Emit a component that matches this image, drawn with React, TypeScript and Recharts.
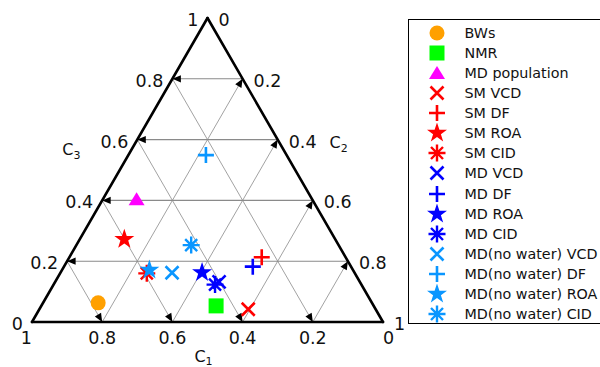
import { ScatterChart, Scatter, XAxis, YAxis, ReferenceLine } from 'recharts'

const H = Math.sqrt(3) / 2

// ternary composition of every series (C1, C2, C3)
const SERIES_NAMES = [
  'BWs',
  'NMR',
  'MD population',
  'SM VCD',
  'SM DF',
  'SM ROA',
  'SM CID',
  'MD VCD',
  'MD DF',
  'MD ROA',
  'MD CID',
  'MD(no water) VCD',
  'MD(no water) DF',
  'MD(no water) ROA',
  'MD(no water) CID',
]
const C1_VALUES = [0.78, 0.449, 0.5, 0.363, 0.239, 0.601, 0.593, 0.401, 0.28, 0.434, 0.417, 0.52, 0.23, 0.58, 0.42]
const C2_VALUES = [0.157, 0.498, 0.096, 0.595, 0.548, 0.127, 0.247, 0.467, 0.538, 0.403, 0.46, 0.318, 0.221, 0.249, 0.327]
const C3_VALUES = [0.063, 0.053, 0.404, 0.042, 0.213, 0.272, 0.16, 0.132, 0.182, 0.163, 0.123, 0.162, 0.549, 0.171, 0.253]

const SERIES_COLORS = [
  '#ffa000', '#00ff00', '#ff00ff',
  '#ff0000', '#ff0000', '#ff0000', '#ff0000',
  '#0000ff', '#0000ff', '#0000ff', '#0000ff',
  '#0a96ff', '#0a96ff', '#0a96ff', '#0a96ff',
]
const SERIES_MARKERS = [
  'circle', 'square', 'triangle',
  'cross', 'plus', 'star', 'asterisk',
  'cross', 'plus', 'star', 'asterisk',
  'cross', 'plus', 'star', 'asterisk',
]

const TICKS = [0, 0.2, 0.4, 0.6, 0.8, 1]
const GRID_TICKS = [0.2, 0.4, 0.6, 0.8]

const tern = (c1: number, c2: number, c3: number) => {
  const s = c1 + c2 + c3
  return { x: (c2 + c3 / 2) / s, y: (c3 / s) * H }
}

const fmt = (v: number) => (v === 0 || v === 1 ? String(v) : v.toFixed(1))

function Marker({ kind, color, cx, cy }: any) {
  switch (kind) {
    case 'circle':
      return <circle cx={cx} cy={cy} r={7.5} fill={color} />
    case 'square':
      return <rect x={cx - 7.5} y={cy - 7.5} width={15} height={15} fill={color} />
    case 'triangle':
      return <polygon points={`${cx},${cy - 7} ${cx + 8},${cy + 6} ${cx - 8},${cy + 6}`} fill={color} />
    case 'cross':
      return (
        <path
          d={`M${cx - 6.5},${cy - 6.5}L${cx + 6.5},${cy + 6.5}M${cx + 6.5},${cy - 6.5}L${cx - 6.5},${cy + 6.5}`}
          stroke={color}
          strokeWidth={2.6}
        />
      )
    case 'plus':
      return (
        <path
          d={`M${cx - 8},${cy}L${cx + 8},${cy}M${cx},${cy - 8}L${cx},${cy + 8}`}
          stroke={color}
          strokeWidth={2.6}
        />
      )
    case 'star': {
      const pts: string[] = []
      for (let i = 0; i < 10; i++) {
        const r = i % 2 === 0 ? 10.5 : 4.1
        const a = -Math.PI / 2 + (i * Math.PI) / 5
        pts.push(`${cx + r * Math.cos(a)},${cy + r * Math.sin(a)}`)
      }
      return <polygon points={pts.join(' ')} fill={color} />
    }
    case 'asterisk': {
      const d = 6
      return (
        <path
          d={`M${cx - 8.5},${cy}L${cx + 8.5},${cy}M${cx},${cy - 8.5}L${cx},${cy + 8.5}M${cx - d},${cy - d}L${cx + d},${cy + d}M${cx + d},${cy - d}L${cx - d},${cy + d}`}
          stroke={color}
          strokeWidth={2.4}
        />
      )
    }
  }
  return null
}

// grid lines with the arrow tip at the axis they are read on
const gridC3 = GRID_TICKS.map((t) => ({ from: tern(1 - t, 0, t), to: tern(0, 1 - t, t) }))
const gridC2 = GRID_TICKS.map((t) => ({ from: tern(1 - t, t, 0), to: tern(0, t, 1 - t) }))
const gridC1 = GRID_TICKS.map((t) => ({ from: tern(t, 0, 1 - t), to: tern(t, 1 - t, 0) }))

const arrows = [
  ...gridC3.map((g) => ({ ...g.from, angle: 180 })),
  ...gridC2.map((g) => ({ ...g.to, angle: -60 })),
  ...gridC1.map((g) => ({ ...g.to, angle: 60 })),
]

const tickLabels = [
  ...TICKS.map((t) => ({
    ...tern(t, 1 - t, 0),
    text: fmt(t),
    dx: 0,
    dy: 16,
    anchor: t === 1 ? 'end' : t === 0 ? 'start' : 'middle',
  })),
  ...TICKS.map((t) => ({ ...tern(1 - t, 0, t), text: fmt(t), dx: -9, dy: 2, anchor: 'end' })),
  ...TICKS.map((t) => ({ ...tern(0, t, 1 - t), text: fmt(t), dx: 11, dy: 2, anchor: 'start' })),
]

const axisTitles = [
  { ...tern(0.434, 0, 0.566), name: 'C', sub: '3', dx: -60, dy: 0 },
  { ...tern(0, 0.411, 0.589), name: 'C', sub: '2', dx: 59, dy: 0 },
  { ...tern(0.5, 0.5, 0), name: 'C', sub: '1', dx: -4, dy: 34 },
]

const Arrow = ({ cx, cy, payload }: any) => (
  <polygon
    points="0,0 -8.5,-3.6 -8.5,3.6"
    fill="#000"
    transform={`translate(${cx},${cy}) rotate(${payload.angle})`}
  />
)

const TickText = ({ cx, cy, payload }: any) => (
  <text
    x={cx + payload.dx}
    y={cy + payload.dy}
    textAnchor={payload.anchor}
    dominantBaseline="central"
    fontSize={17.5}
    fontFamily="DejaVu Sans, sans-serif"
    fill="#111"
  >
    {payload.text}
  </text>
)

const TitleText = ({ cx, cy, payload }: any) => (
  <text
    x={cx + payload.dx}
    y={cy + payload.dy}
    textAnchor="middle"
    dominantBaseline="central"
    fontSize={16}
    fontFamily="DejaVu Sans, sans-serif"
    fill="#111"
  >
    {payload.name}
    <tspan fontSize={11} dy={5}>
      {payload.sub}
    </tspan>
  </text>
)

export default function App() {
  const series = SERIES_NAMES.map((name, i) => ({
    name,
    color: SERIES_COLORS[i],
    marker: SERIES_MARKERS[i],
    data: [{ ...tern(C1_VALUES[i], C2_VALUES[i], C3_VALUES[i]) }],
  }))

  const corners = [tern(1, 0, 0), tern(0, 1, 0), tern(0, 0, 1)]

  return (
    <div
      style={{
        position: 'absolute',
        left: 0,
        top: 0,
        width: 600,
        height: 367,
        overflow: 'hidden',
        background: '#fff',
      }}
    >
      <ScatterChart width={600} height={367} margin={{ top: 18, right: 217, bottom: 45, left: 32 }}>
        <XAxis type="number" dataKey="x" domain={[0, 1]} hide />
        <YAxis type="number" dataKey="y" domain={[0, H]} hide />

        {[...gridC1, ...gridC2].map((g, i) => (
          <ReferenceLine
            key={`d${i}`}
            segment={[g.from, g.to]}
            stroke="#8a8a8a"
            strokeWidth={0.8}
            ifOverflow="visible"
          />
        ))}
        {gridC3.map((g, i) => (
          <ReferenceLine
            key={`h${i}`}
            segment={[g.from, g.to]}
            stroke="#8a8a8a"
            strokeWidth={1.1}
            ifOverflow="visible"
          />
        ))}
        {corners.map((c, i) => (
          <ReferenceLine
            key={`e${i}`}
            segment={[c, corners[(i + 1) % 3]]}
            stroke="#000"
            strokeWidth={2.6}
            strokeLinecap="round"
            ifOverflow="visible"
          />
        ))}

        <Scatter data={arrows} shape={<Arrow />} isAnimationActive={false} />
        <Scatter data={tickLabels} shape={<TickText />} isAnimationActive={false} />
        <Scatter data={axisTitles} shape={<TitleText />} isAnimationActive={false} />

        {series.map((s) => (
          <Scatter
            key={s.name}
            name={s.name}
            data={s.data}
            isAnimationActive={false}
            shape={(p: any) => <Marker kind={s.marker} color={s.color} cx={p.cx} cy={p.cy} />}
          />
        ))}
      </ScatterChart>

      <div
        style={{
          position: 'absolute',
          left: 408,
          top: 19,
          width: 210,
          height: 305,
          border: '1.5px solid #000',
          boxSizing: 'border-box',
          background: '#fff',
          fontFamily: 'DejaVu Sans, sans-serif',
          fontSize: 14.3,
          color: '#111',
        }}
      >
        {series.map((s, i) => (
          <div
            key={s.name}
            style={{
              position: 'absolute',
              left: 0,
              top: 3 + i * 20.07,
              height: 20,
              display: 'flex',
              alignItems: 'center',
              whiteSpace: 'nowrap',
            }}
          >
            <svg width={20} height={20} style={{ marginLeft: 17.5 }}>
              <Marker kind={s.marker} color={s.color} cx={10} cy={10} />
            </svg>
            <span style={{ marginLeft: 18 }}>{s.name}</span>
          </div>
        ))}
      </div>
    </div>
  )
}
